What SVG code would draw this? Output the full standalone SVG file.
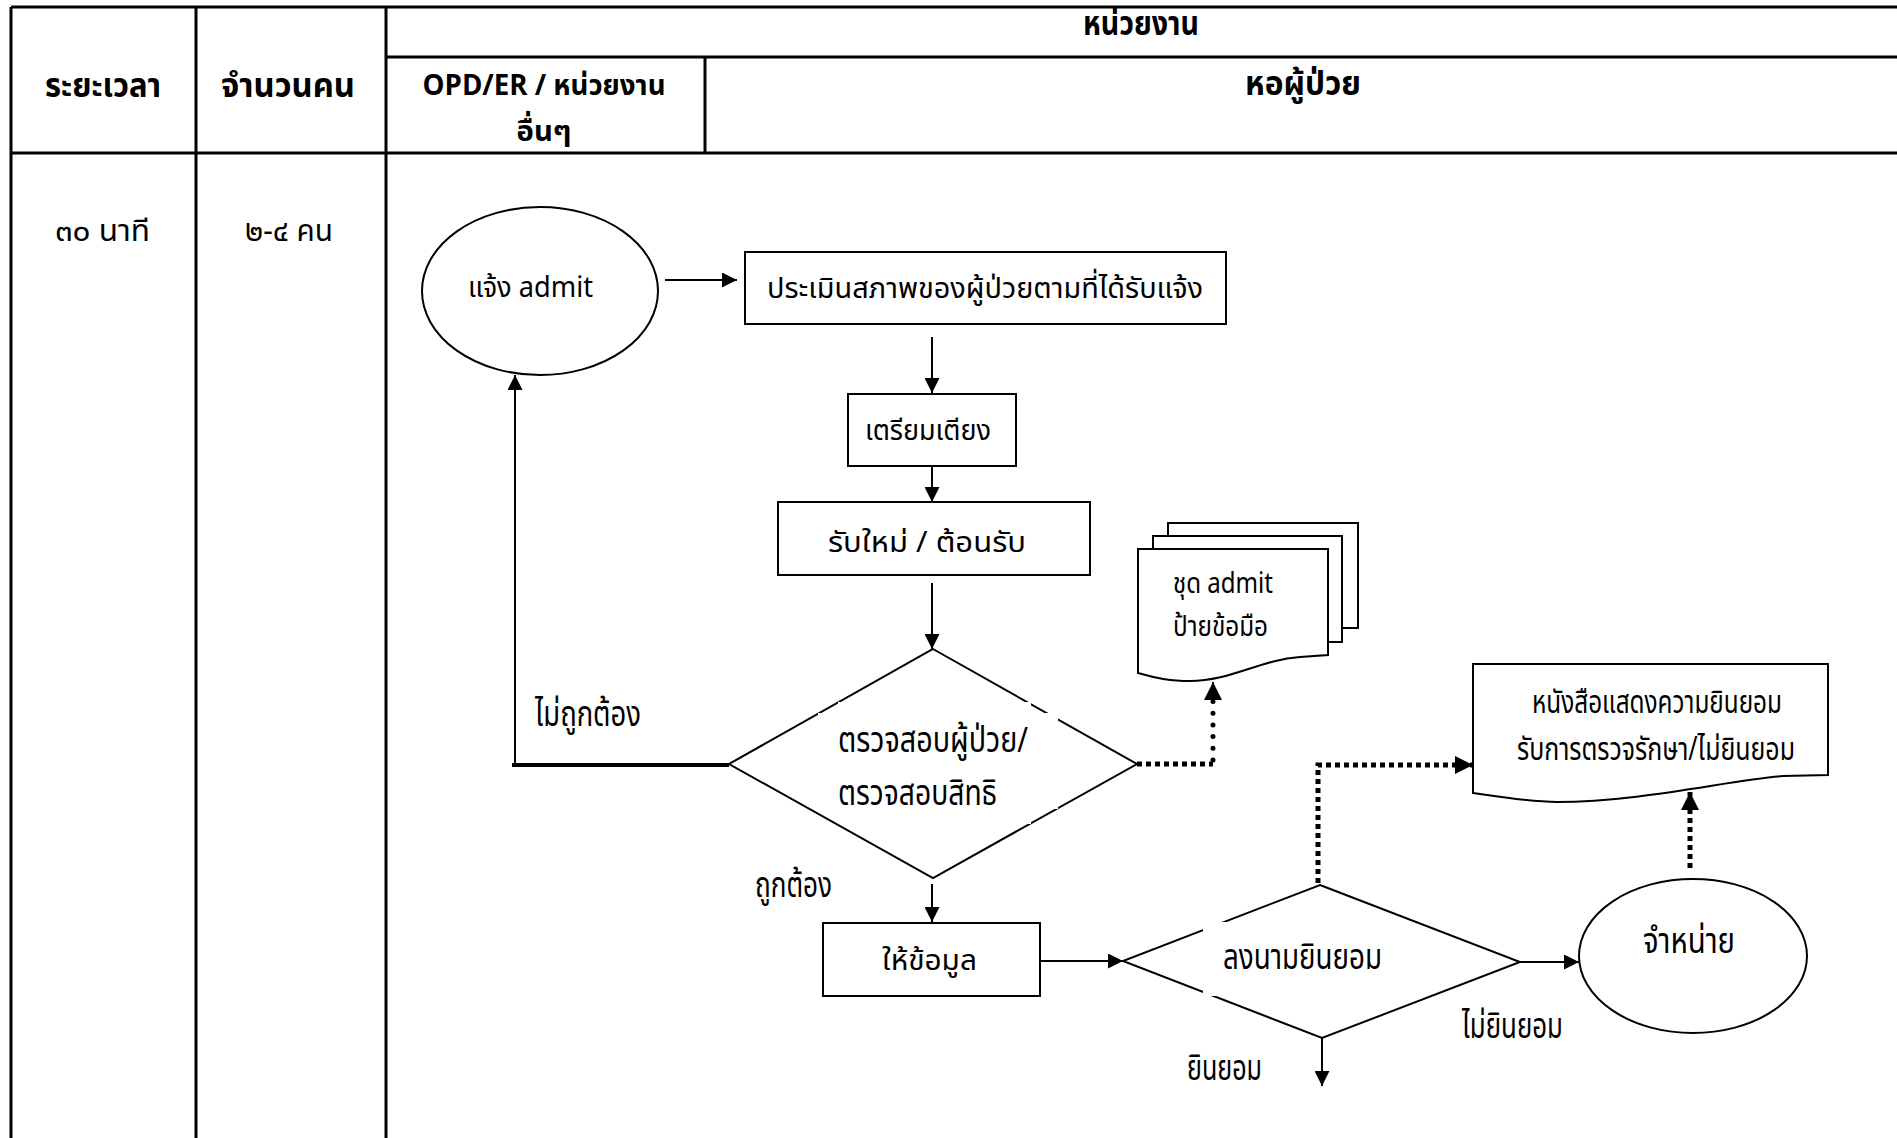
<svg xmlns="http://www.w3.org/2000/svg" width="1897" height="1138" viewBox="0 0 1897 1138">
<defs>
<style>
text{font-family:"Noto Sans Thai","Noto Sans Thai UI","Leelawadee UI",Tahoma,"Noto Sans","DejaVu Sans",sans-serif;fill:#000;}
.h{font-size:34px;font-weight:bold;text-anchor:middle;}
.h2{font-size:29px;font-weight:bold;text-anchor:middle;}
.t{font-size:29px;}
.n{font-size:30px;}
.c{font-size:35px;}
.d{font-size:32px;text-anchor:middle;}
.grid{stroke:#000;stroke-width:3;fill:none;}
.shape{stroke:#000;stroke-width:2;fill:#fff;}
.ln{stroke:#000;stroke-width:2;fill:none;}
.dot{stroke:#000;stroke-width:5;fill:none;stroke-dasharray:5 4;}
.rdot{stroke:#000;stroke-width:5;fill:none;stroke-dasharray:0 11.7;stroke-linecap:round;}
</style>
<marker id="a" viewBox="0 0 10 10" refX="10" refY="5" markerWidth="16" markerHeight="15" markerUnits="userSpaceOnUse" orient="auto"><path d="M0,0 L10,5 L0,10 z" fill="#000"/></marker>
<marker id="b" viewBox="0 0 10 10" refX="10" refY="5" markerWidth="18" markerHeight="18" markerUnits="userSpaceOnUse" orient="auto"><path d="M0,0 L10,5 L0,10 z" fill="#000"/></marker>
</defs>
<rect width="1897" height="1138" fill="#fff"/>
<g id="table">
<path class="grid" d="M11,7 H1897 M386,57 H1897 M11,153 H1897 M11,7 V1138 M196,7 V1138 M386,7 V1138 M705,57 V153"/>
<text class="h" x="103" y="97" textLength="116" lengthAdjust="spacingAndGlyphs">ระยะเวลา</text>
<text class="h" x="288" y="97" textLength="134" lengthAdjust="spacingAndGlyphs">จำนวนคน</text>
<text class="h2" x="544" y="95" textLength="243" lengthAdjust="spacingAndGlyphs">OPD/ER / หน่วยงาน</text>
<text class="h2" x="544" y="141" textLength="55" lengthAdjust="spacingAndGlyphs">อื่นๆ</text>
<text class="h" x="1141" y="35" textLength="116" lengthAdjust="spacingAndGlyphs">หน่วยงาน</text>
<text class="h" x="1303" y="95" textLength="116" lengthAdjust="spacingAndGlyphs">หอผู้ป่วย</text>
<text class="n" x="55" y="241" textLength="95" lengthAdjust="spacingAndGlyphs">๓๐ นาที</text>
<text class="n" x="245" y="241" textLength="88" lengthAdjust="spacingAndGlyphs">๒-๔ คน</text>
</g>
<g id="connectors">
<path class="ln" d="M665,280 H737" marker-end="url(#a)"/>
<path class="ln" d="M932,337 V393" marker-end="url(#a)"/>
<path class="ln" d="M932,466 V502" marker-end="url(#a)"/>
<path class="ln" d="M932,583 V649" marker-end="url(#a)"/>
<path class="ln" d="M932,884 V922" marker-end="url(#a)"/>
<path class="ln" d="M1040,961 H1123" marker-end="url(#a)"/>
<path class="ln" d="M1520,962 H1579" marker-end="url(#a)"/>
<path class="ln" d="M1322,1038 V1086" marker-end="url(#a)"/>
<path stroke="#000" stroke-width="4" fill="none" d="M512,765 H729"/>
<path class="ln" d="M515,765 V375" marker-end="url(#a)"/>
<path class="dot" d="M1137,764 H1213"/>
<path class="rdot" d="M1213,760 V698"/>
<path class="ln" d="M1213,698 V682" marker-end="url(#b)"/>
<path class="dot" d="M1318,883 V765 H1473" marker-end="url(#b)"/>
<path class="dot" d="M1690,868 V792" marker-end="url(#b)"/>
<text class="c" x="535" y="726" textLength="106" lengthAdjust="spacingAndGlyphs">ไม่ถูกต้อง</text>
<text class="c" x="755" y="897" textLength="77" lengthAdjust="spacingAndGlyphs">ถูกต้อง</text>
<text class="c" x="1187" y="1080" textLength="75" lengthAdjust="spacingAndGlyphs">ยินยอม</text>
<text class="c" x="1462" y="1038" textLength="101" lengthAdjust="spacingAndGlyphs">ไม่ยินยอม</text>
</g>
<g id="n-notify">
<ellipse class="shape" cx="540" cy="291" rx="118" ry="84"/>
<text class="t" x="468" y="297" textLength="125" lengthAdjust="spacingAndGlyphs">แจ้ง admit</text>
</g>
<g id="n-assess">
<rect class="shape" x="745" y="252" width="481" height="72"/>
<text class="t" x="767" y="298" textLength="436" lengthAdjust="spacingAndGlyphs">ประเมินสภาพของผู้ป่วยตามที่ได้รับแจ้ง</text>
</g>
<g id="n-bed">
<rect class="shape" x="848" y="394" width="168" height="72"/>
<text class="t" x="865" y="440" textLength="126" lengthAdjust="spacingAndGlyphs">เตรียมเตียง</text>
</g>
<g id="n-receive">
<rect class="shape" x="778" y="502" width="312" height="73"/>
<text class="t" x="828" y="552" textLength="198" lengthAdjust="spacingAndGlyphs">รับใหม่ / ต้อนรับ</text>
</g>
<g id="n-check">
<polygon class="shape" points="933,649 1137,764 933,878 729,764"/>
<rect x="838" y="702" width="193" height="122" fill="#fff"/>
<rect x="818" y="713" width="240" height="96" fill="#fff"/>
<text class="c" x="838" y="752" textLength="190" lengthAdjust="spacingAndGlyphs">ตรวจสอบผู้ป่วย/</text>
<text class="c" x="838" y="805" textLength="159" lengthAdjust="spacingAndGlyphs">ตรวจสอบสิทธิ</text>
</g>
<g id="n-docs">
<rect class="shape" x="1168" y="523" width="190" height="105"/>
<rect class="shape" x="1153" y="536" width="189" height="106"/>
<path class="shape" d="M1138,549 H1328 V655 L1300,657 C1260,660 1230,681 1190,681 C1170,681 1160,679 1138,673 Z"/>
<text class="t" x="1173" y="593" textLength="100" lengthAdjust="spacingAndGlyphs">ชุด admit</text>
<text class="t" x="1173" y="636" textLength="95" lengthAdjust="spacingAndGlyphs">ป้ายข้อมือ</text>
</g>
<g id="n-info">
<rect class="shape" x="823" y="923" width="217" height="73"/>
<text class="t" x="882" y="970" textLength="95" lengthAdjust="spacingAndGlyphs">ให้ข้อมูล</text>
</g>
<g id="n-consent">
<polygon class="shape" points="1320,885 1520,962 1322,1038 1123,961"/>
<rect x="1203" y="922" width="197" height="74" fill="#fff"/>
<text class="c" x="1223" y="969" textLength="159" lengthAdjust="spacingAndGlyphs">ลงนามยินยอม</text>
</g>
<g id="n-form">
<path class="shape" d="M1473,664 H1828 V775 L1783,776 C1730,780 1640,802 1557,802 C1530,802 1500,797 1473,793 Z"/>
<text class="d" x="1657" y="713" textLength="250" lengthAdjust="spacingAndGlyphs">หนังสือแสดงความยินยอม</text>
<text class="d" x="1656" y="760" textLength="278" lengthAdjust="spacingAndGlyphs">รับการตรวจรักษา/ไม่ยินยอม</text>
</g>
<g id="n-discharge">
<ellipse class="shape" cx="1693" cy="956" rx="114" ry="77"/>
<text class="c" x="1643" y="953" textLength="92" lengthAdjust="spacingAndGlyphs">จำหน่าย</text>
</g>
</svg>
